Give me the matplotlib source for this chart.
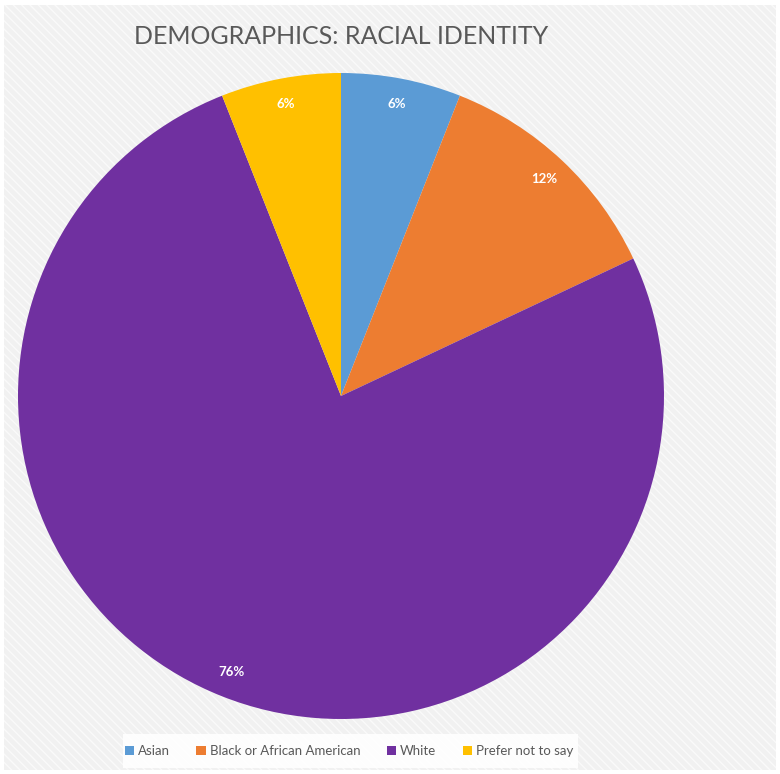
import matplotlib.pyplot as plt
from matplotlib.patches import Rectangle

plt.rcParams['font.family'] = ['Lato', 'DejaVu Sans']

# survey breakdown (percent of respondents)
groups = ['Asian', 'Black or African American', 'White', 'Prefer not to say']
shares = [6, 12, 76, 6]
colors = ['#5b9bd5', '#ed7d31', '#7030a0', '#ffc000']

W, H = 780, 774
fig = plt.figure(figsize=(W / 100, H / 100), dpi=100, facecolor='white')

# striped grey panel behind everything
bg = fig.add_axes([0, 0, 1, 1], zorder=0)
bg.set_xlim(0, W)
bg.set_ylim(0, H)
bg.axis('off')
bg.add_patch(Rectangle((4, 4), W - 8, H - 9, facecolor='#f1f1f1',
                       edgecolor='none'))
bg.add_patch(Rectangle((4, 4), W - 8, H - 9, facecolor='none',
                       edgecolor='#fafafa', hatch='\\\\\\\\', linewidth=0))
# legend strip
bg.add_patch(Rectangle((123, 6), 455, 34, facecolor='white',
                       edgecolor='none', alpha=0.9))

# pie: centre (341, 396) px, radius ~323 px
r = 323
cx, cy = 341, H - 396
ax = fig.add_axes([(cx - r) / W, (cy - r) / H, 2 * r / W, 2 * r / H], zorder=1)
wedges, texts, autotexts = ax.pie(
    shares, colors=colors, startangle=90, counterclock=False,
    autopct='%1.0f%%', pctdistance=0.92, radius=1.0,
    wedgeprops=dict(linewidth=0),
    textprops=dict(color='white', fontsize=9.5, fontweight='bold'))
ax.set_xlim(-1, 1)
ax.set_ylim(-1, 1)
ax.set_aspect('equal')
ax.axis('off')

fig.text(341 / W, 1 - 37 / H, 'DEMOGRAPHICS: RACIAL IDENTITY',
         ha='center', va='center', fontsize=18, color='#595959')

fig.legend(wedges, groups, loc='center', bbox_to_anchor=(349 / W, 23 / H),
           ncol=4, frameon=False, fontsize=9.5, handlelength=0.7,
           handleheight=0.7, handletextpad=0.3, columnspacing=2.0,
           labelcolor='#595959')

fig.savefig('out.png', dpi=100, facecolor='white')
